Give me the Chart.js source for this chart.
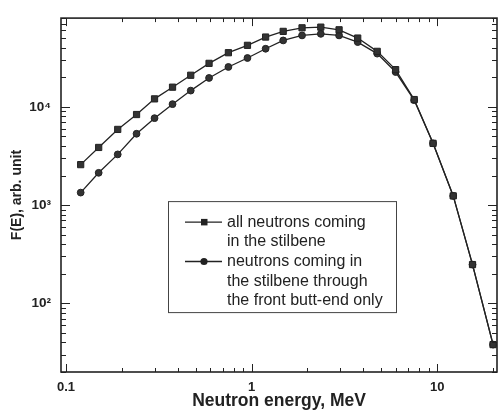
<!DOCTYPE html>
<html>
<head>
<meta charset="utf-8">
<script src="https://cdn.jsdelivr.net/npm/chart.js@4/dist/chart.umd.min.js"></script>
<style>
body{margin:0;background:#fff;}
#wrap{width:503px;height:412px;position:relative;}
</style>
</head>
<body>
<div id="wrap"><canvas id="chart"></canvas></div>
<script>
// neutron energy, MeV
const energy=[0.12,0.15,0.19,0.24,0.30,0.375,0.47,0.59,0.75,0.95,1.19,1.48,1.87,2.36,2.96,3.73,4.75,5.97,7.52,9.5,12.2,15.5,20];
// F(E), arb. unit
const allNeutrons=[2580,3860,5890,8350,12050,15850,20960,27700,35550,42250,51300,58600,63700,64700,60800,50100,36700,23900,11860,4250,1240,248,38];
const frontOnly=[1340,2130,3280,5320,7670,10650,14630,19670,25460,31400,39000,47400,53300,55300,53300,45600,34800,22600,11700,4250,1240,248,38];
const xLabels=[0.1,1,10];
const yLabels=[100,1000,10000];
const yLabelText=['10\u00b2','10\u00b3','10\u2074'];
const legendLines=[["all neutrons coming","in the stilbene"],["neutrons coming in","the stilbene through","the front butt-end only"]];

const ink='#222';
const font='"Liberation Sans", Arial, sans-serif';

function isDecade(v){
    const l=Math.log10(v);
    return Math.abs(l-Math.round(l))<1e-6;
}
// 1..9 x 10^n between lo and hi
function logTicks(lo,hi){
    const out=[];
    for(let e=Math.floor(Math.log10(lo));e<=Math.ceil(Math.log10(hi));e++){
        for(let m=1;m<10;m++){
            const v=+(m*Math.pow(10,e)).toPrecision(6);
            if(v>=lo&&v<=hi) out.push({value:v});
        }
    }
    return out;
}

const frame={
    id:'frame',
    afterDraw(chart){
        const c=chart.ctx,a=chart.chartArea,x=chart.scales.x,y=chart.scales.y;
        c.save();
        c.strokeStyle=ink;
        c.lineWidth=1;
        c.beginPath();
        x.ticks.forEach(function(t){
            const px=Math.round(x.getPixelForValue(t.value))+0.5;
            const len=isDecade(t.value)?8:4;
            c.moveTo(px,a.bottom);c.lineTo(px,a.bottom-len);
            c.moveTo(px,a.top);c.lineTo(px,a.top+len);
        });
        y.ticks.forEach(function(t){
            const py=Math.round(y.getPixelForValue(t.value))+0.5;
            const len=isDecade(t.value)?9:5;
            c.moveTo(a.left,py);c.lineTo(a.left+len,py);
            c.moveTo(a.right,py);c.lineTo(a.right-len,py);
        });
        c.stroke();
        c.lineWidth=1.6;
        c.strokeRect(a.left,a.top,a.right-a.left,a.bottom-a.top);
        c.restore();
    }
};

const legendBox={
    id:'legendBox',
    afterDraw(chart){
        const c=chart.ctx,a=chart.chartArea;
        const bx=a.left+107,by=a.top+183,bw=228,bh=111;
        c.save();
        c.fillStyle='#fff';
        c.fillRect(bx,by,bw,bh);
        c.strokeStyle='#444';
        c.lineWidth=1;
        c.strokeRect(bx+0.5,by+0.5,bw,bh);
        c.font='16px '+font;
        c.textBaseline='middle';
        let row=by+21;
        legendLines.forEach(function(lines,i){
            c.strokeStyle=ink;c.fillStyle=ink;c.lineWidth=1.3;
            c.beginPath();c.moveTo(bx+17,row);c.lineTo(bx+54,row);c.stroke();
            if(i===0){c.fillRect(bx+33,row-3.2,6.5,6.5);}
            else{c.beginPath();c.arc(bx+36,row,3.6,0,Math.PI*2);c.fill();}
            lines.forEach(function(t,j){
                c.fillText(t,bx+59,row+j*19.7);
            });
            row+=lines.length*19.7;
        });
        c.restore();
    }
};

const ctx=document.getElementById('chart').getContext('2d');
new Chart(ctx,{
    type:'line',
    data:{
        datasets:[
            {
                label:'all neutrons coming in the stilbene',
                data:energy.map(function(e,i){return {x:e,y:allNeutrons[i]};}),
                borderColor:ink,
                backgroundColor:'#333',
                borderWidth:1.3,
                pointStyle:'rect',
                pointRadius:4.4,
                pointBorderWidth:1,
                pointBorderColor:ink,
                tension:0
            },
            {
                label:'neutrons coming in the stilbene through the front butt-end only',
                data:energy.map(function(e,i){return {x:e,y:frontOnly[i]};}),
                borderColor:ink,
                backgroundColor:'#333',
                borderWidth:1.3,
                pointStyle:'circle',
                pointRadius:3.4,
                pointBorderWidth:1,
                pointBorderColor:ink,
                tension:0
            }
        ]
    },
    options:{
        responsive:true,
        maintainAspectRatio:false,
        animation:false,
        layout:{padding:{top:16,right:6,left:0,bottom:0}},
        plugins:{legend:{display:false},tooltip:{enabled:false}},
        scales:{
            x:{
                type:'logarithmic',
                min:0.094,
                max:21,
                afterBuildTicks:function(s){s.ticks=logTicks(0.1,20);},
                afterFit:function(s){s.height=40;},
                grid:{display:false,drawTicks:false},
                border:{display:false},
                ticks:{
                    autoSkip:false,maxRotation:0,padding:8,color:ink,
                    font:{family:font,size:13,weight:'bold'},
                    callback:function(v){return xLabels.indexOf(v)>=0?String(v):'';}
                },
                title:{display:true,text:'Neutron energy, MeV',color:ink,
                    font:{family:font,size:17.5,weight:'bold'},padding:{top:0,bottom:0}}
            },
            y:{
                type:'logarithmic',
                min:20,
                max:80000,
                afterBuildTicks:function(s){s.ticks=logTicks(20,80000);},
                afterFit:function(s){s.width=61;},
                grid:{display:false,drawTicks:false},
                border:{display:false},
                ticks:{
                    autoSkip:false,padding:10,color:ink,
                    font:{family:font,size:13.5,weight:'bold'},
                    callback:function(v){const k=yLabels.indexOf(v);return k>=0?yLabelText[k]:'';}
                },
                title:{display:true,text:'F(E), arb. unit',color:ink,
                    font:{family:font,size:14,weight:'bold'},padding:{top:9,bottom:0}}
            }
        }
    },
    plugins:[frame,legendBox]
});
</script>
</body>
</html>
